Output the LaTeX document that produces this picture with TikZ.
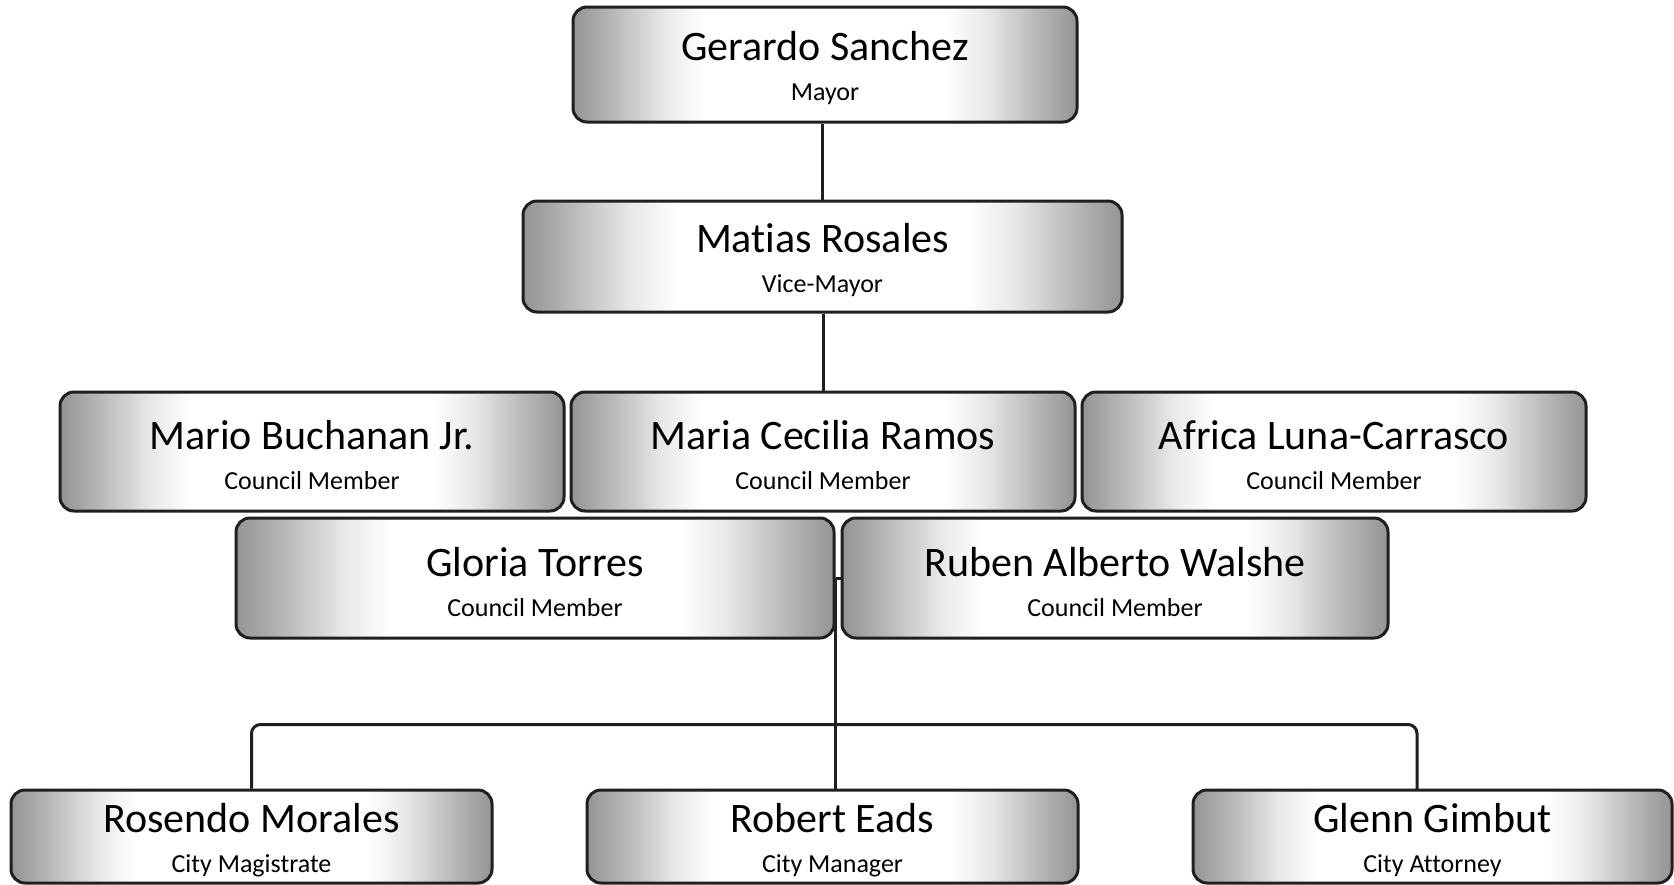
\documentclass[tikz,border=0pt]{standalone}
\usepackage{fontspec}
\setmainfont{Carlito}[Ligatures=NoCommon]
\usetikzlibrary{calc}
\pgfdeclarehorizontalshading{boxshade}{100bp}{color(0bp)=(black!42); color(25bp)=(black!42); color(29bp)=(black!28); color(34bp)=(black!9); color(38bp)=(white); color(62bp)=(white); color(66bp)=(black!9); color(71bp)=(black!28); color(75bp)=(black!42); color(100bp)=(black!42)}
\tikzset{
  box/.style={draw=black!88, line width=3pt, rounded corners=14pt, shade, shading=boxshade,
    align=center, inner sep=0pt, font=\fontsize{26}{40}\selectfont},
  conn/.style={draw=black!88, line width=3pt},
}
\newcommand\nm[1]{{\fontsize{42}{40}\selectfont\rule{0pt}{37pt}#1}}
\begin{document}
\begin{tikzpicture}[x=1pt,y=-1pt]
\fill[white] (0,0) rectangle (1674,884);
\useasboundingbox (0,0) rectangle (1674,884);
% boxes
\node[box, minimum width=504pt, minimum height=115pt] (gs) at (825,64.5) {\nm{Gerardo Sanchez}\\Mayor};
\node[box, minimum width=599pt, minimum height=111pt] (mr) at (822.5,256.5) {\nm{Matias Rosales}\\Vice-Mayor};
\node[box, minimum width=504pt, minimum height=119pt] (mb) at (312,451.5) {\nm{Mario Buchanan Jr.}\\Council Member};
\node[box, minimum width=504pt, minimum height=119pt] (mc) at (823,451.5) {\nm{Maria Cecilia Ramos}\\Council Member};
\node[box, minimum width=504pt, minimum height=119pt] (al) at (1334,451.5) {\nm{Africa Luna-Carrasco}\\Council Member};
\node[box, minimum width=598pt, minimum height=120pt] (gt) at (535,578) {\nm{Gloria Torres}\\Council Member};
\node[box, minimum width=546pt, minimum height=120pt] (rw) at (1115,578) {\nm{Ruben Alberto Walshe}\\Council Member};
\node[box, minimum width=481pt, minimum height=93pt] (rm) at (251.5,836.5) {\nm{Rosendo Morales}\\City Magistrate};
\node[box, minimum width=491pt, minimum height=93pt] (re) at (832.5,836.5) {\nm{Robert Eads}\\City Manager};
\node[box, minimum width=479pt, minimum height=93pt] (gg) at (1432.5,836.5) {\nm{Glenn Gimbut}\\City Attorney};
% connectors
\coordinate (jn) at (835,578);
\coordinate (gdrop) at (1417,790);
\draw[conn] (mr.north) -- (mr.north |- gs.south);
\draw[conn] (mc.north) -- (mc.north |- mr.south);
\draw[conn] (gt.east) -- (rw.west);
\draw[conn] (jn) -- (jn |- re.north);
\draw[conn, rounded corners=9pt] (rm.north) -- ++(0,-64) -| (gdrop);
\end{tikzpicture}
\end{document}
